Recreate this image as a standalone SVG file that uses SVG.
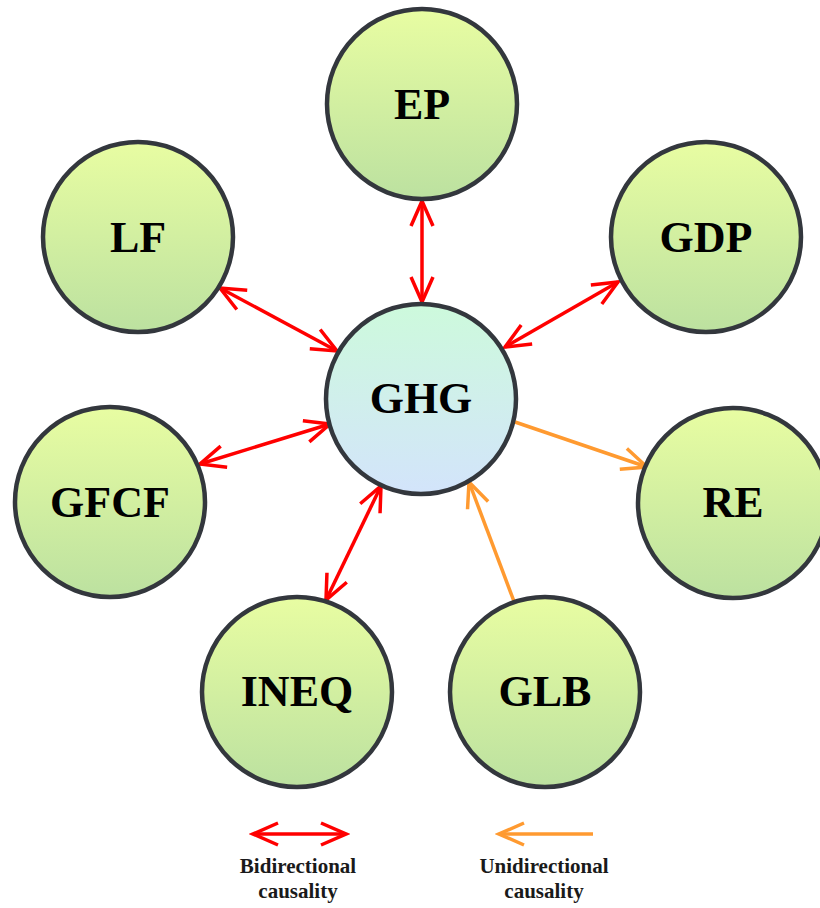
<svg xmlns="http://www.w3.org/2000/svg" width="820" height="908" viewBox="0 0 820 908">
<defs>
<linearGradient id="gGreen" x1="0" y1="0" x2="0" y2="1">
<stop offset="0" stop-color="#e8fda2"/>
<stop offset="1" stop-color="#bce1a0"/>
</linearGradient>
<linearGradient id="gBlue" x1="0" y1="0" x2="0" y2="1">
<stop offset="0" stop-color="#cdfadc"/>
<stop offset="1" stop-color="#d3e4fb"/>
</linearGradient>
<marker id="aRed" markerUnits="userSpaceOnUse" viewBox="-30 -15 34 30" refX="0" refY="0" markerWidth="34" markerHeight="30" orient="auto-start-reverse">
<path d="M -25 -11 L 0 0 L -25 11" fill="none" stroke="#ff0000" stroke-width="3.5" stroke-linejoin="miter"/>
</marker>
<marker id="aOrange" markerUnits="userSpaceOnUse" viewBox="-30 -15 34 30" refX="0" refY="0" markerWidth="34" markerHeight="30" orient="auto">
<path d="M -25 -11 L 0 0 L -25 11" fill="none" stroke="#ff9a30" stroke-width="3.5" stroke-linejoin="miter"/>
</marker>
</defs>
<style>
.node circle { stroke: #33373d; stroke-width: 4.5; }
.green { fill: url(#gGreen); }
.blue { fill: url(#gBlue); }
.lbl { font-family: "Liberation Serif", "DejaVu Serif", serif; font-weight: bold; font-size: 44px; text-anchor: middle; fill: #000; }
.bi { stroke: #ff0000; stroke-width: 3.5; fill: none; marker-start: url(#aRed); marker-end: url(#aRed); }
.uni { stroke: #ff9a30; stroke-width: 3.5; fill: none; marker-end: url(#aOrange); }
.leg { font-family: "Liberation Serif", "DejaVu Serif", serif; font-weight: bold; font-size: 21px; text-anchor: middle; fill: #1a1a1a; }
</style>
<rect width="820" height="908" fill="#ffffff"/>

<g id="connectors">
<line class="bi" x1="422" y1="201" x2="422" y2="302"/>
<line class="bi" x1="220" y1="288" x2="337" y2="351"/>
<line class="bi" x1="618" y1="282" x2="505" y2="347"/>
<line class="bi" x1="200" y1="464" x2="330" y2="424"/>
<line class="bi" x1="326" y1="600" x2="381" y2="486"/>
<line class="uni" x1="515" y1="422" x2="647" y2="467"/>
<line class="uni" x1="515" y1="604" x2="469" y2="482"/>
</g>

<g id="node-EP" class="node"><circle class="green" cx="422" cy="104" r="95"/><text class="lbl" x="422" y="119">EP</text></g>
<g id="node-LF" class="node"><circle class="green" cx="138" cy="237" r="95"/><text class="lbl" x="138" y="252">LF</text></g>
<g id="node-GDP" class="node"><circle class="green" cx="706" cy="237" r="95"/><text class="lbl" x="706" y="252">GDP</text></g>
<g id="node-GHG" class="node"><circle class="blue" cx="421" cy="399" r="95"/><text class="lbl" x="421" y="413">GHG</text></g>
<g id="node-GFCF" class="node"><circle class="green" cx="110" cy="502" r="95"/><text class="lbl" x="110" y="517">GFCF</text></g>
<g id="node-RE" class="node"><circle class="green" cx="733" cy="503" r="95"/><text class="lbl" x="733" y="517">RE</text></g>
<g id="node-INEQ" class="node"><circle class="green" cx="297" cy="692" r="95"/><text class="lbl" x="297" y="706">INEQ</text></g>
<g id="node-GLB" class="node"><circle class="green" cx="545" cy="692" r="95"/><text class="lbl" x="545" y="706">GLB</text></g>

<g id="legend">
<line class="bi" x1="253" y1="834" x2="346" y2="834"/>
<text class="leg" x="298" y="873">Bidirectional</text>
<text class="leg" x="298" y="898">causality</text>
<line class="uni" x1="593" y1="834" x2="499" y2="834"/>
<text class="leg" x="544" y="873">Unidirectional</text>
<text class="leg" x="544" y="898">causality</text>
</g>
</svg>
